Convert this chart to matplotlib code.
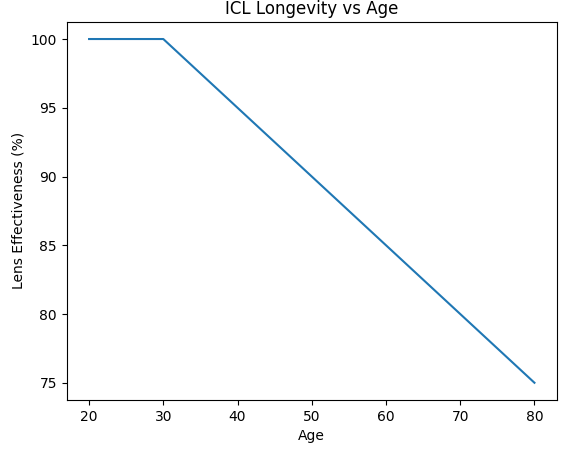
import matplotlib
matplotlib.use("Agg")
import matplotlib.pyplot as plt

ages = [20, 25, 30, 35, 40, 45, 50, 55, 60, 65, 70, 75, 80]
effectiveness = [100, 100, 100, 97.5, 95, 92.5, 90, 87.5, 85, 82.5, 80, 77.5, 75]

fig, ax = plt.subplots(figsize=(5.71, 4.55), dpi=100)
fig.subplots_adjust(left=0.117, right=0.975, top=0.952, bottom=0.121)
ax.plot(ages, effectiveness)
ax.set_title("ICL Longevity vs Age")
ax.set_xlabel("Age")
ax.set_ylabel("Lens Effectiveness (%)")
fig.savefig("out.png", dpi=100)
